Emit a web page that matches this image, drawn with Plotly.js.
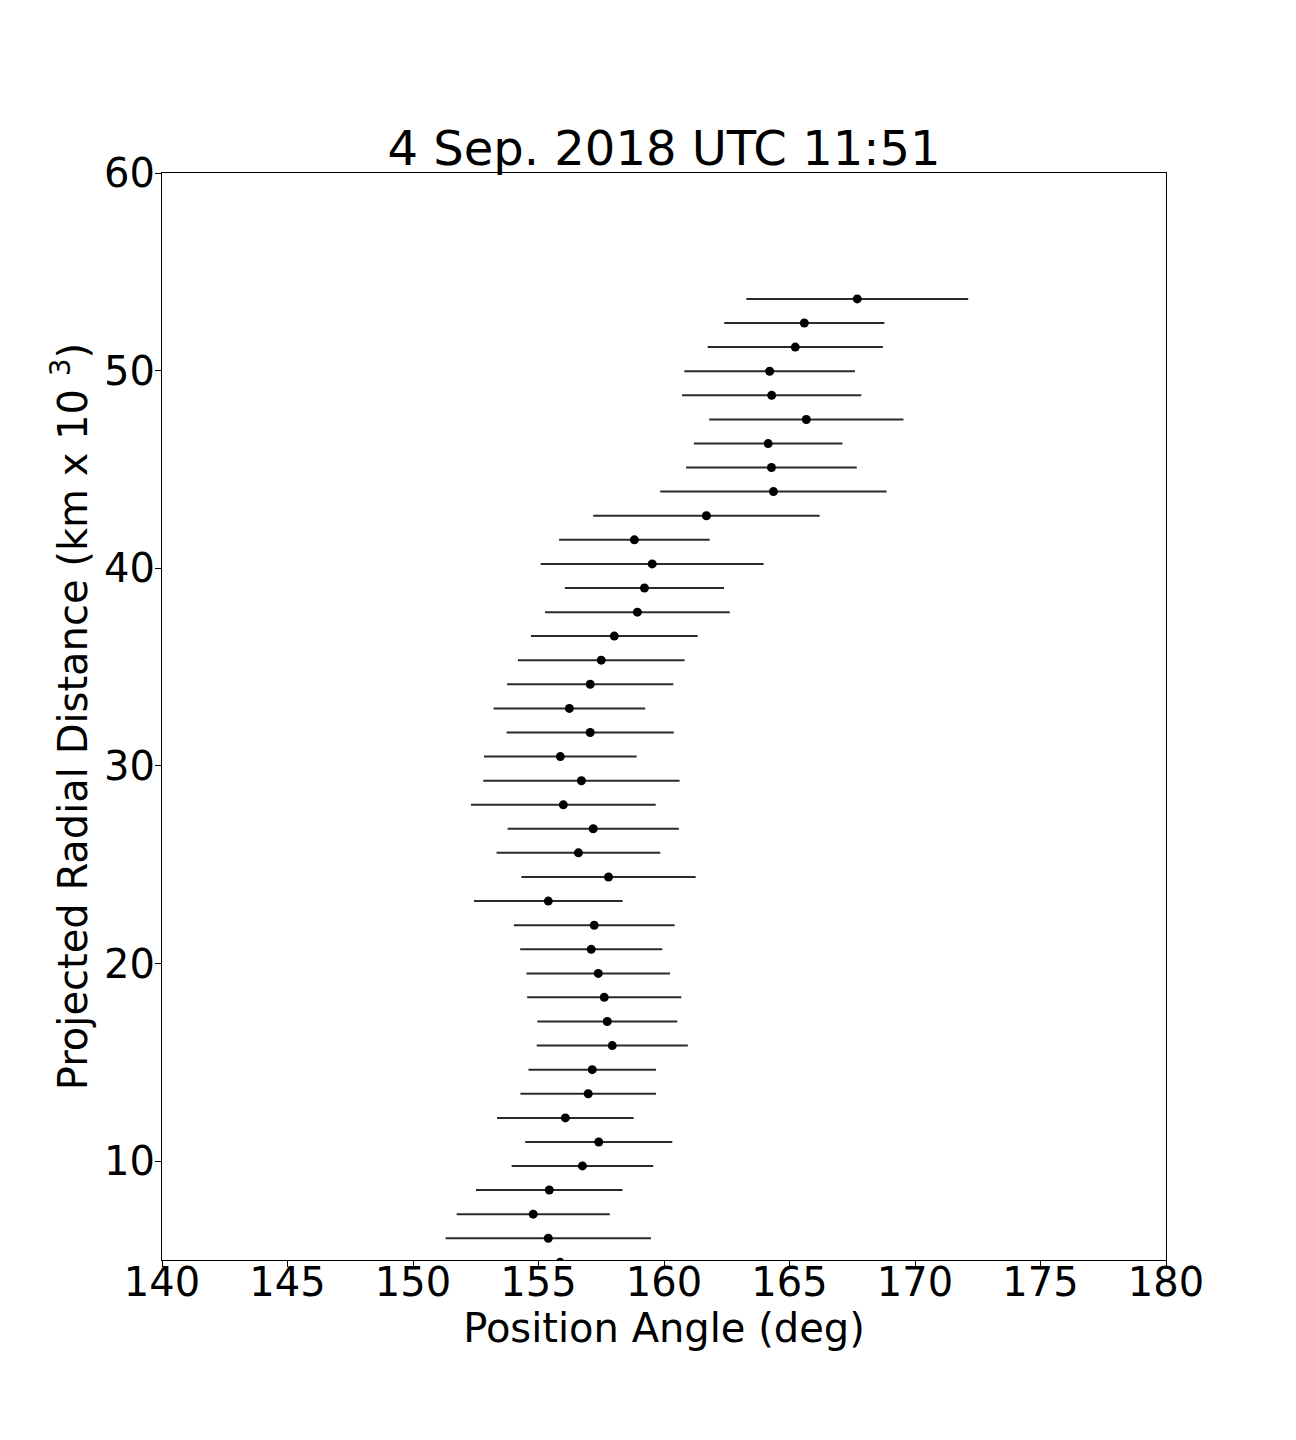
<!DOCTYPE html>
<html>
<head>
<meta charset="utf-8">
<script src="https://cdn.plot.ly/plotly-3.0.1.min.js"></script>
<style>
  html, body { margin: 0; padding: 0; background: #ffffff; }
  #chart { width: 1296px; height: 1440px; }
</style>
</head>
<body>
<div id="chart"></div>
<script>
// Projected radial distance (km x 10^3), from bottom to top
const radialDistance = [4.88, 6.10, 7.32, 8.54, 9.76, 10.97, 12.19, 13.41, 14.63, 15.85, 17.07,
  18.29, 19.50, 20.72, 21.94, 23.16, 24.38, 25.60, 26.82, 28.03, 29.25,
  30.47, 31.69, 32.91, 34.13, 35.35, 36.57, 37.78, 39.00, 40.22, 41.44,
  42.66, 43.88, 45.10, 46.31, 47.53, 48.75, 49.97, 51.19, 52.41, 53.63];

// Position angle (deg)
const positionAngle = [155.86, 155.39, 154.79, 155.43, 156.75, 157.40, 156.07, 156.98, 157.14, 157.94, 157.74,
  157.62, 157.38, 157.10, 157.22, 155.39, 157.79, 156.59, 157.18, 155.99, 156.71,
  155.87, 157.06, 156.23, 157.06, 157.50, 158.02, 158.94, 159.22, 159.53, 158.82,
  161.69, 164.36, 164.28, 164.15, 165.67, 164.29, 164.21, 165.23, 165.59, 167.70];

// Position angle uncertainty (deg, symmetric)
const angleError = [4.00, 4.09, 3.05, 2.92, 2.82, 2.93, 2.72, 2.70, 2.54, 3.01, 2.79,
  3.07, 2.86, 2.83, 3.20, 2.96, 3.47, 3.26, 3.41, 3.68, 3.91,
  3.04, 3.33, 3.02, 3.31, 3.32, 3.32, 3.68, 3.17, 4.44, 3.00,
  4.51, 4.51, 3.40, 2.96, 3.87, 3.57, 3.40, 3.49, 3.19, 4.42];

const xTicks = [140, 145, 150, 155, 160, 165, 170, 175, 180];
const yTicks = [10, 20, 30, 40, 50, 60];

const FONT = 'DejaVu Sans, Liberation Sans, sans-serif';

const trace = {
  type: 'scatter',
  mode: 'markers',
  x: positionAngle,
  y: radialDistance,
  marker: { color: '#000000', size: 9 },
  error_x: {
    type: 'data',
    array: angleError,
    symmetric: true,
    color: '#2a2a2a',
    thickness: 2,
    width: 0
  },
  cliponaxis: true,
  showlegend: false,
  hoverinfo: 'x+y'
};

const layout = {
  width: 1296,
  height: 1440,
  paper_bgcolor: '#ffffff',
  plot_bgcolor: '#ffffff',
  margin: { l: 162, r: 130, t: 173, b: 180 },
  font: { family: FONT, color: '#000000' },
  title: {
    text: '4 Sep. 2018 UTC 11:51',
    font: { family: FONT, size: 48, color: '#000000' },
    x: 0.5,
    xref: 'paper',
    xanchor: 'center',
    y: 1 - 148 / 1440,
    yref: 'container',
    yanchor: 'middle'
  },
  xaxis: {
    range: [140, 180],
    tickvals: xTicks,
    ticktext: xTicks.map(String),
    showgrid: false,
    zeroline: false,
    showline: true,
    linecolor: '#000000',
    linewidth: 1,
    mirror: true,
    ticks: 'outside',
    ticklen: 6,
    tickwidth: 1,
    tickcolor: '#000000',
    ticklabelstandoff: -19,
    tickfont: { family: FONT, size: 40, color: '#000000' },
    title: {
      text: 'Position Angle (deg)',
      font: { family: FONT, size: 40, color: '#000000' },
      standoff: 4
    }
  },
  yaxis: {
    range: [5, 60],
    tickvals: yTicks,
    ticktext: yTicks.map(String),
    showgrid: false,
    zeroline: false,
    showline: true,
    linecolor: '#000000',
    linewidth: 1,
    mirror: true,
    ticks: 'outside',
    ticklen: 6,
    tickwidth: 1,
    tickcolor: '#000000',
    ticklabelstandoff: -8,
    tickfont: { family: FONT, size: 40, color: '#000000' },
    title: {
      text: 'Projected Radial Distance (km x 10 <sup>3</sup>)',
      font: { family: FONT, size: 40, color: '#000000' },
      standoff: 4
    }
  }
};

Plotly.newPlot('chart', [trace], layout, { displayModeBar: false, staticPlot: false });
</script>
</body>
</html>
